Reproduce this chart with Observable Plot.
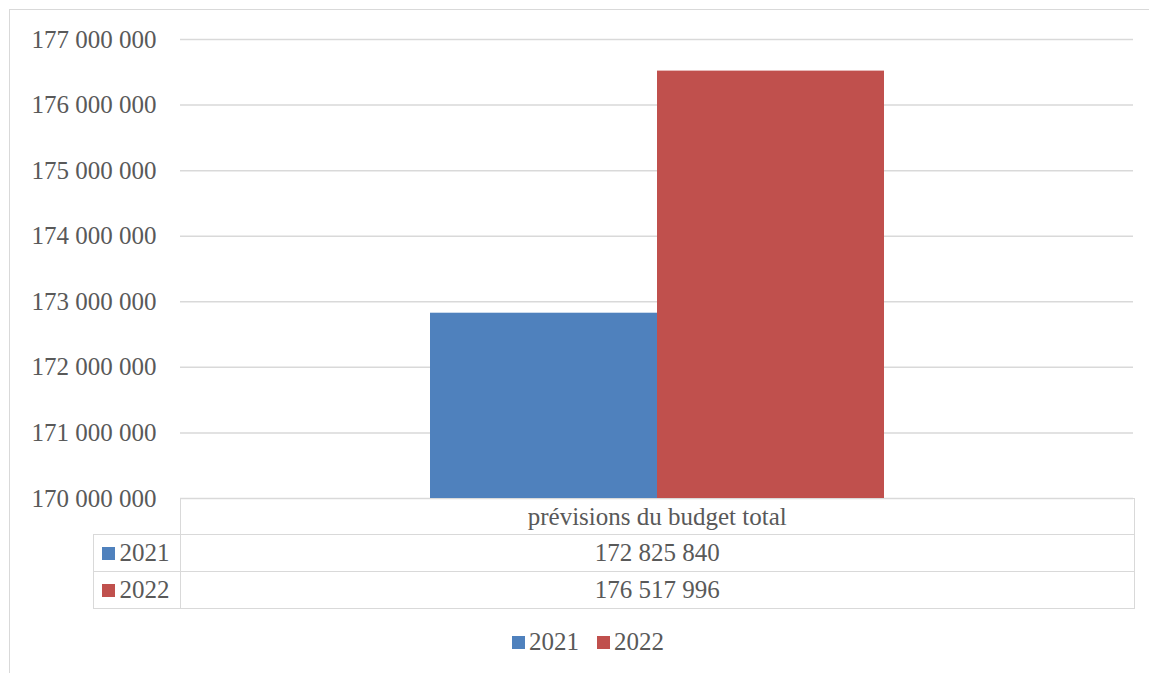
<!DOCTYPE html>
<html><head><meta charset="utf-8">
<script src="https://cdn.jsdelivr.net/npm/d3@7"></script>
<script src="https://cdn.jsdelivr.net/npm/@observablehq/plot@0.6"></script>
<style>
html,body{margin:0;padding:0;background:#fff;}
#wrap{position:relative;width:1149px;height:673px;overflow:hidden;font-family:"Liberation Serif",serif;color:#595959;}
#frame{position:absolute;left:9px;top:8.5px;width:1300px;height:800px;border:1.5px solid #d9d9d9;box-sizing:border-box;}
#chart{position:absolute;left:0;top:0;}
#tbl{position:absolute;left:92.5px;top:497.5px;border-collapse:collapse;table-layout:fixed;width:1041px;font-size:25px;color:#595959;}
#tbl td{border:1.5px solid #d9d9d9;padding:0;text-align:center;line-height:1;overflow:hidden;}
#tbl td.key{text-align:left;padding-left:8px;white-space:nowrap;}
.sw{display:inline-block;width:13px;height:13px;margin-right:5px;vertical-align:1px;}
#legend{position:absolute;left:0;width:1176px;top:628px;text-align:center;font-size:25px;}
#legend span.item{margin:0 9px;}
</style></head>
<body><div id="wrap"><div id="frame"></div><div id="chart"></div><div id="tbl-holder"></div><div id="legend"></div></div>
<script>
const category = "prévisions du budget total";
const years = ["2021", "2022"];
const values = [172825840, 176517996];
const colors = ["#4f81bd", "#c0504d"];
const yDomain = [170000000, 177000000];
const yTicks = [170000000, 171000000, 172000000, 173000000, 174000000, 175000000, 176000000, 177000000];

const data = years.map((y, i) => ({year: y, value: values[i], category}));
const fmt = d3.formatLocale({decimal: ",", thousands: "\u00a0", grouping: [3], currency: ["", ""]}).format(",d");

const chart = Plot.plot({
  width: 1149,
  height: 510,
  marginTop: 39,
  marginBottom: 12,
  marginLeft: 180,
  marginRight: 16,
  style: {fontFamily: "Liberation Serif, serif", fontSize: "25px", color: "#595959", background: "transparent"},
  x: {domain: years, paddingInner: 0, paddingOuter: 1.09, axis: null},
  y: {domain: yDomain, ticks: 7, tickSize: 0, tickPadding: 24, tickFormat: fmt, label: null},
  color: {domain: years, range: colors},
  marks: [
    Plot.ruleY(yTicks, {stroke: "#d9d9d9", strokeWidth: 1.5}),
    Plot.barY(data, {x: "year", y1: yDomain[0], y2: "value", fill: "year", inset: 0})
  ]
});
document.getElementById("chart").appendChild(chart);

// data table
const tbl = document.createElement("table");
tbl.id = "tbl";
let html = `<colgroup><col style="width:87.5px"><col style="width:953.5px"></colgroup>`;
html += `<tr style="height:36px"><td style="border-top-style:hidden;border-left-style:hidden;"></td><td>${category}</td></tr>`;
years.forEach((y, i) => {
  html += `<tr style="height:37px"><td class="key"><span class="sw" style="background:${colors[i]}"></span>${y}</td><td>${fmt(values[i])}</td></tr>`;
});
tbl.innerHTML = html;
document.getElementById("tbl-holder").appendChild(tbl);

// legend
document.getElementById("legend").innerHTML = years.map((y, i) =>
  `<span class="item"><span class="sw" style="background:${colors[i]};margin-right:4px"></span>${y}</span>`).join("");
</script>
</body></html>
